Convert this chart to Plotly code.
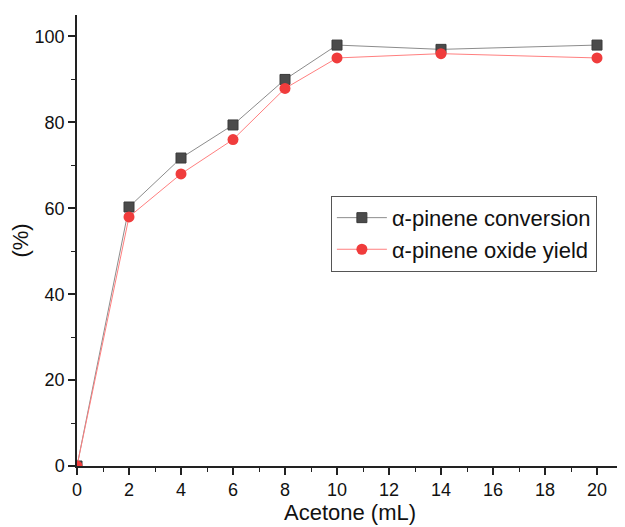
import plotly.graph_objects as go

acetone_ml = [0, 2, 4, 6, 8, 10, 14, 20]
conversion = [0, 60.3, 71.7, 79.4, 90.0, 98.0, 97.0, 98.0]
oxide_yield = [0, 58.0, 68.0, 76.0, 87.9, 95.0, 96.0, 95.0]

fig = go.Figure()
fig.add_trace(go.Scatter(
    x=acetone_ml, y=conversion, mode="lines+markers",
    name="α-pinene conversion",
    line=dict(color="#8c8c8c", width=1),
    marker=dict(symbol="square", size=10, color="#4b4b4b",
                line=dict(color="#3a3a3a", width=1)),
))
fig.add_trace(go.Scatter(
    x=acetone_ml, y=oxide_yield, mode="lines+markers",
    name="α-pinene oxide yield",
    line=dict(color="#ff7f7f", width=1),
    marker=dict(symbol="circle", size=11, color="#f03c3c",
                line=dict(color="#f03c3c", width=0)),
))

font_family = "Liberation Sans, Arial, sans-serif"
# page body has an 8px margin, so margins are offset to match the reference
fig.update_layout(
    width=625, height=527,
    margin=dict(l=69, r=10, t=7, b=69, autoexpand=False),
    paper_bgcolor="white", plot_bgcolor="white",
    font=dict(family=font_family, color="#111111", size=18),
    showlegend=True,
    legend=dict(
        x=0.465, y=0.599, xanchor="left", yanchor="top",
        bordercolor="#555555", borderwidth=1, bgcolor="white",
        font=dict(size=22, family=font_family, color="#111111"),
        tracegroupgap=0, itemwidth=50,
    ),
    xaxis=dict(
        range=[0, 21], tickmode="array",
        tickvals=[0, 2, 4, 6, 8, 10, 12, 14, 16, 18, 20],
        ticks="outside", ticklen=7, tickwidth=1.5, tickcolor="#222222",
        minor=dict(dtick=1, tick0=0, ticks="outside", ticklen=4, tickwidth=1.2, tickcolor="#222222"),
        showline=True, linecolor="#222222", linewidth=1.5,
        showgrid=False, zeroline=False,
        tickfont=dict(size=18),
        title=dict(text="Acetone (mL)", font=dict(size=22), standoff=2),
    ),
    yaxis=dict(
        range=[0, 105], tickmode="array",
        tickvals=[0, 20, 40, 60, 80, 100],
        ticks="outside", ticklen=7, tickwidth=1.5, tickcolor="#222222",
        minor=dict(dtick=10, tick0=0, ticks="outside", ticklen=4, tickwidth=1.2, tickcolor="#222222"),
        showline=True, linecolor="#222222", linewidth=1.5,
        showgrid=False, zeroline=False,
        tickfont=dict(size=18),
        title=dict(text="(%)", font=dict(size=22), standoff=4),
    ),
)

fig.write_html("out.html")
